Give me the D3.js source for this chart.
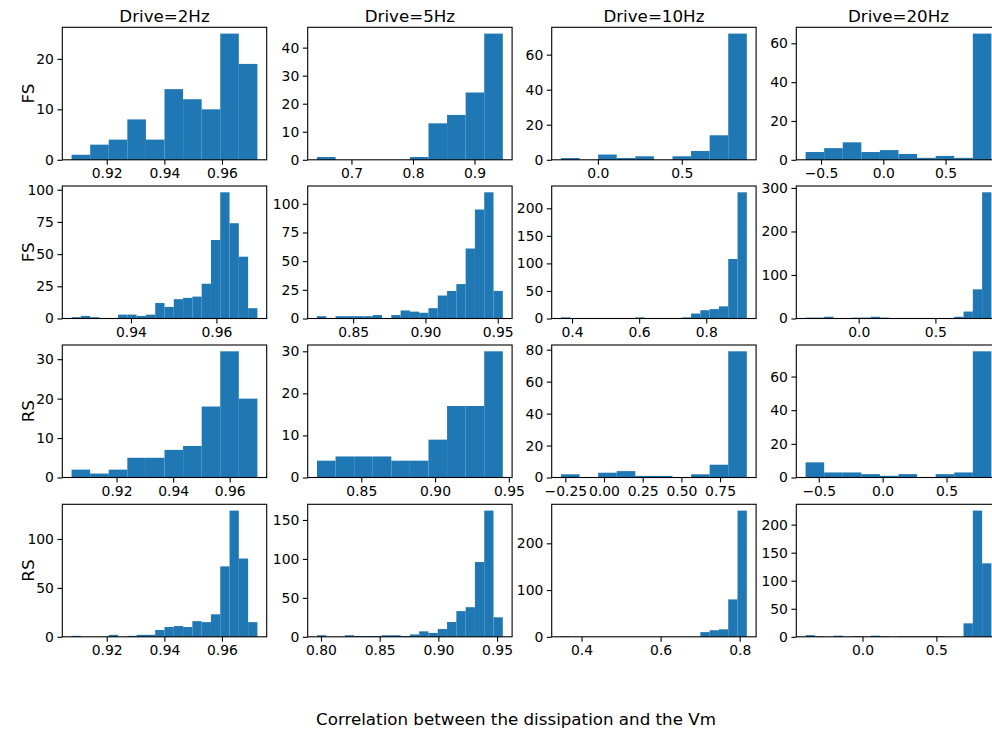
<!DOCTYPE html>
<html>
<head>
<meta charset="utf-8">
<script src="https://cdn.jsdelivr.net/npm/d3@7"></script>
<style>
  html, body { margin: 0; padding: 0; background: #fff; }
  svg { display: block; font-family: "DejaVu Sans", sans-serif; }
</style>
</head>
<body>
<svg id="chart" width="992" height="732"></svg>
<script>
// ---------------- DATA ----------------
const colTitles = ["Drive=2Hz", "Drive=5Hz", "Drive=10Hz", "Drive=20Hz"];
const rowLabels = ["FS", "FS", "RS", "RS"];
const xLabel = "Correlation between the dissipation and the Vm";

// bin ranges [first edge, last edge] per panel, row-major
const binRanges = [
  [0.9078, 0.9723], [0.644, 0.946], [-0.22, 0.8875], [-0.624, 0.868],
  [0.9261, 0.9696], [0.825, 0.9535], [0.367, 0.921], [-0.346, 0.865],
  [0.9041, 0.9698], [0.82, 0.9459], [-0.278, 0.923], [-0.603, 0.851],
  [0.9078, 0.9723], [0.7966, 0.9549], [0.348, 0.818], [-0.385, 0.872]
];

// counts per panel
const fsA_2Hz  = [1, 3, 4, 8, 4, 14, 12, 10, 25, 19];
const fsA_5Hz  = [1, 0, 0, 0, 0, 1, 13, 16, 24, 45];
const fsA_10Hz = [1, 0, 3, 1, 2, 0, 2, 5, 14, 72];
const fsA_20Hz = [4, 6, 9, 4, 5, 3, 1, 2, 1, 65];
const fsB_2Hz  = [1, 2, 1, 0, 0, 3, 3, 2, 3, 12, 9, 15, 16, 17, 27, 61, 98, 74, 48, 8];
const fsB_5Hz  = [2, 0, 2, 2, 2, 2, 3, 0, 3, 7, 6, 5, 9, 20, 24, 30, 61, 95, 110, 24];
const fsB_10Hz = [2, 0, 0, 0, 0, 0, 0, 0, 2, 0, 0, 0, 0, 2, 9, 15, 17, 22, 108, 229];
const fsB_20Hz = [2, 2, 4, 0, 0, 2, 2, 4, 2, 0, 1, 1, 1, 1, 1, 0, 4, 16, 67, 290];
const rsA_2Hz  = [2, 1, 2, 5, 5, 7, 8, 18, 32, 20];
const rsA_5Hz  = [4, 5, 5, 5, 4, 4, 9, 17, 17, 30];
const rsA_10Hz = [2, 0, 3, 4, 1, 1, 0, 2, 8, 79];
const rsA_20Hz = [9, 3, 3, 2, 1, 2, 0, 2, 3, 75];
const rsB_2Hz  = [1, 0, 0, 0, 2, 0, 1, 2, 2, 7, 10, 11, 10, 16, 15, 23, 72, 129, 80, 15];
const rsB_5Hz  = [2, 0, 0, 2, 1, 1, 1, 2, 2, 1, 3, 7, 5, 10, 19, 33, 38, 96, 162, 25];
const rsB_10Hz = [1, 0, 0, 0, 0, 0, 0, 0, 0, 0, 0, 0, 0, 0, 0, 10, 14, 16, 80, 270];
const rsB_20Hz = [3, 1, 0, 2, 0, 1, 0, 2, 1, 0, 1, 1, 1, 1, 1, 0, 0, 24, 225, 131];

const allCounts = [
  fsA_2Hz, fsA_5Hz, fsA_10Hz, fsA_20Hz,
  fsB_2Hz, fsB_5Hz, fsB_10Hz, fsB_20Hz,
  rsA_2Hz, rsA_5Hz, rsA_10Hz, rsA_20Hz,
  rsB_2Hz, rsB_5Hz, rsB_10Hz, rsB_20Hz
];

// tick labels
const xTickLabels = [
  ["0.92", "0.94", "0.96"], ["0.7", "0.8", "0.9"], ["0.0", "0.5"], ["\u22120.5", "0.0", "0.5"],
  ["0.94", "0.96"], ["0.85", "0.90", "0.95"], ["0.4", "0.6", "0.8"], ["0.0", "0.5"],
  ["0.92", "0.94", "0.96"], ["0.85", "0.90", "0.95"], ["\u22120.25", "0.00", "0.25", "0.50", "0.75"], ["\u22120.5", "0.0", "0.5"],
  ["0.92", "0.94", "0.96"], ["0.80", "0.85", "0.90", "0.95"], ["0.4", "0.6", "0.8"], ["0.0", "0.5"]
];
const yTickLabels = [
  ["0", "10", "20"], ["0", "10", "20", "30", "40"], ["0", "20", "40", "60"], ["0", "20", "40", "60"],
  ["0", "25", "50", "75", "100"], ["0", "25", "50", "75", "100"], ["0", "50", "100", "150", "200"], ["0", "100", "200", "300"],
  ["0", "10", "20", "30"], ["0", "10", "20", "30"], ["0", "20", "40", "60", "80"], ["0", "20", "40", "60"],
  ["0", "50", "100"], ["0", "50", "100", "150"], ["0", "100", "200"], ["0", "50", "100", "150", "200"]
];

// ---------------- LAYOUT ----------------
const colLeft = [62.3, 307.7, 551.7, 796.3];
const rowTop = [27.3, 186.0, 345.0, 504.3];
const axW = 204.4, axH = 132.5;
const barColor = "#1f77b4";
const tickFont = 13.9, titleFont = 16.7;

const svg = d3.select("#chart");
const num = s => +s.replace("\u2212", "-");

allCounts.forEach((counts, i) => {
  const r = Math.floor(i / 4), c = i % 4;
  const [lo, hi] = binRanges[i];
  const n = counts.length;
  const edges = d3.range(n + 1).map(k => lo + (hi - lo) * k / n);
  const pad = 0.05 * (hi - lo);
  const ymax = d3.max(counts) * 1.05;

  const x = d3.scaleLinear().domain([lo - pad, hi + pad]).range([0, axW]);
  const y = d3.scaleLinear().domain([0, ymax]).range([axH, 0]);

  const g = svg.append("g").attr("transform", `translate(${colLeft[c]},${rowTop[r]})`);

  g.selectAll("rect.bar").data(counts).join("rect")
    .attr("class", "bar")
    .attr("x", (d, k) => x(edges[k]))
    .attr("width", (d, k) => x(edges[k + 1]) - x(edges[k]))
    .attr("y", d => y(d))
    .attr("height", d => axH - y(d))
    .attr("fill", barColor);

  const xt = xTickLabels[i];
  const xAxis = d3.axisBottom(x)
    .tickValues(xt.map(num))
    .tickFormat((d, k) => xt[k])
    .tickSize(4.9).tickPadding(3.5).tickSizeOuter(0);
  const gx = g.append("g").attr("transform", `translate(0,${axH})`).call(xAxis);

  const yt = yTickLabels[i];
  const yAxis = d3.axisLeft(y)
    .tickValues(yt.map(num))
    .tickFormat((d, k) => yt[k])
    .tickSize(4.9).tickPadding(3.5).tickSizeOuter(0);
  const gy = g.append("g").call(yAxis);

  [gx, gy].forEach(ax => {
    ax.select(".domain").remove();
    ax.selectAll("line").attr("stroke", "#000").attr("stroke-width", 1.1);
    ax.selectAll("text").attr("fill", "#000")
      .style("font-family", "DejaVu Sans").style("font-size", tickFont + "px");
  });

  g.append("rect")
    .attr("x", 0).attr("y", 0).attr("width", axW).attr("height", axH)
    .attr("fill", "none").attr("stroke", "#000").attr("stroke-width", 1.1);

  if (r === 0) {
    g.append("text").attr("x", axW / 2).attr("y", -5)
      .attr("text-anchor", "middle").attr("fill", "#000")
      .style("font-size", titleFont + "px").text(colTitles[c]);
  }
  if (c === 0) {
    g.append("text")
      .attr("transform", `translate(${-28},${axH / 2}) rotate(-90)`)
      .attr("text-anchor", "middle").attr("fill", "#000")
      .style("font-size", titleFont + "px").text(rowLabels[r]);
  }
});

svg.append("text").attr("x", 516).attr("y", 725)
  .attr("text-anchor", "middle").attr("fill", "#000")
  .style("font-size", titleFont + "px").text(xLabel);
</script>
</body>
</html>
